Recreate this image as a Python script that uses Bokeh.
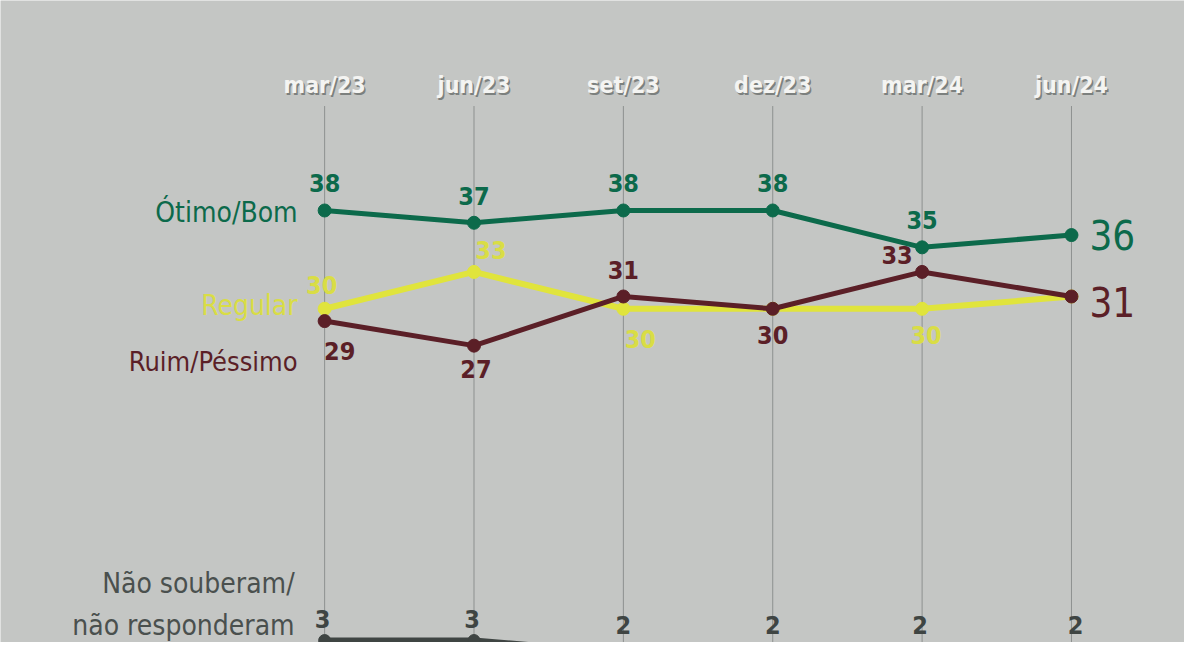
from bokeh.plotting import figure
from bokeh.models import ColumnDataSource, Range1d
from bokeh.core.properties import value
from bokeh.embed import file_html
from bokeh.resources import INLINE

# ---- data -------------------------------------------------------------
months = ["mar/23", "jun/23", "set/23", "dez/23", "mar/24", "jun/24"]
month_index = [0, 3, 6, 9, 12, 15]          # months since mar/23

otimo_bom = [38, 37, 38, 38, 35, 36]
regular = [30, 33, 30, 30, 30, 31]
ruim_pessimo = [29, 27, 31, 30, 33, 31]
nao_souberam = [3, 3, 2, 2, 2, 2]

series_names = ["Ótimo/Bom", "Regular", "Ruim/Péssimo"]
ns_name_lines = ["Não souberam/", "não responderam"]

# ---- style ------------------------------------------------------------
FONT = "DejaVu Sans Condensed, Roboto, sans-serif"
GREEN = "#0c6a4b"
YELLOW = "#e0e43c"
YELLOW_TXT = "#d9dd45"
RED = "#5b1f27"
GREY = "#3f4543"
BG = "#c4c6c4"

p = figure(width=1184, height=642, output_backend="svg", toolbar_location=None,
           x_axis_location=None, y_axis_location=None,
           x_range=Range1d(-6.51, 17.27), y_range=Range1d(2.84, 55.09),
           min_border=0)
p.background_fill_color = BG
p.border_fill_color = BG
p.outline_line_color = None
p.grid.visible = False

# vertical guide lines
p.segment(x0=month_index, x1=month_index, y0=[p.y_range.start - 1] * 6, y1=[46.5] * 6,
          line_color="#8d908f", line_width=1)

# month labels (with a faint shadow)
msrc = ColumnDataSource(dict(x=month_index, y=[48.2] * 6, t=months))
p.text(x="x", y="y", text="t", source=msrc, x_offset=1.5, y_offset=1.5,
       text_color="#7c807e", text_font=value(FONT), text_font_size="23px",
       text_font_style="bold", text_align="center", text_baseline="middle")
p.text(x="x", y="y", text="t", source=msrc,
       text_color="#f4f4f2", text_font=value(FONT), text_font_size="23px",
       text_font_style="bold", text_align="center", text_baseline="middle")


def series(vals, color, lw, size, txt_color, dx, dy, show):
    src = ColumnDataSource(dict(x=month_index, y=vals))
    p.line("x", "y", source=src, line_color=color, line_width=lw)
    p.scatter("x", "y", source=src, size=size, fill_color=color, line_color=color)
    n = len(dx)
    lab = ColumnDataSource(dict(
        x=month_index[:n], y=vals[:n],
        t=[str(v) if s else "" for v, s in zip(vals[:n], show)],
        dx=dx, dy=dy))
    p.text(x="x", y="y", text="t", source=lab, x_offset="dx", y_offset="dy",
           text_color=txt_color, text_font=value(FONT), text_font_size="25px",
           text_font_style="bold", text_align="center", text_baseline="middle")


# draw order: yellow under red under green
series(regular, YELLOW, 6, 13, YELLOW_TXT,
       [-3, 17, 17, 0, 4], [-24, -22, 30, 0, 26], [True, True, True, False, True])
series(ruim_pessimo, RED, 5, 13, RED,
       [15, 2, 0, 0, -25], [30, 23, -26, 26, -17], [True] * 5)
series(otimo_bom, GREEN, 5, 13, GREEN,
       [0, 0, 0, 0, 0], [-27] * 5, [True] * 5)
series(nao_souberam, GREY, 6, 12, GREY,
       [-2, -2, 0, 0, -2, 4], [-22, -22, -28, -28, -28, -28], [True] * 6)

# large end labels
end = ColumnDataSource(dict(x=[month_index[-1]] * 2,
                            y=[otimo_bom[-1], ruim_pessimo[-1]],
                            t=[str(otimo_bom[-1]), str(ruim_pessimo[-1])],
                            c=[GREEN, RED], dy=[0, 6]))
p.text(x="x", y="y", text="t", source=end, x_offset=18, y_offset="dy",
       text_color="c", text_font=value(FONT), text_font_size="40px",
       text_align="left", text_baseline="middle")

# series names on the left
names = ColumnDataSource(dict(
    x=[month_index[0]] * 3,
    y=[otimo_bom[0], regular[0], ruim_pessimo[0]],
    t=series_names, c=[GREEN, YELLOW_TXT, RED],
    s=["28px", "28px", "27px"], dy=[2, -3, 40]))
p.text(x="x", y="y", text="t", source=names, x_offset=-27, y_offset="dy",
       text_color="c", text_font=value(FONT), text_font_size="s",
       text_align="right", text_baseline="middle")

ns = ColumnDataSource(dict(x=[month_index[0]] * 2, y=[nao_souberam[0]] * 2,
                           t=ns_name_lines, dy=[-57, -15]))
p.text(x="x", y="y", text="t", source=ns, x_offset=-30, y_offset="dy",
       text_color="#4a504e", text_font=value(FONT), text_font_size="28px",
       text_align="right", text_baseline="middle")

open("out.html", "w").write(file_html(p, INLINE))
